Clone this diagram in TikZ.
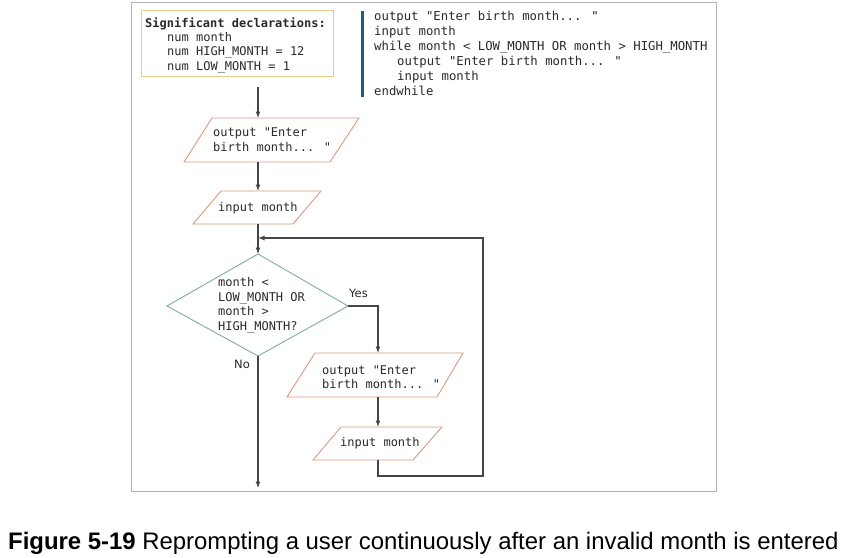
\documentclass[tikz,border=0pt]{standalone}
\usepackage{fontspec}
\setmainfont{Liberation Sans}
\newfontfamily\codefont{DejaVu Sans Mono}
\newfontfamily\labfont{DejaVu Sans}
\usetikzlibrary{arrows.meta}
\definecolor{framegray}{HTML}{B4B4B4}
\definecolor{linegray}{HTML}{454545}
\definecolor{parcol}{HTML}{D89A84}
\definecolor{diacol}{HTML}{7FAE9F}
\definecolor{declcol}{HTML}{E9CB84}
\definecolor{barcol}{HTML}{215E7C}
\definecolor{txt}{HTML}{2A2A2A}
\begin{document}
\begin{tikzpicture}[x=1pt,y=-1pt,
  code/.style={font=\codefont\fontsize{12}{14.5}\selectfont, inner sep=0pt, anchor=base west, text=txt},
  pcode/.style={code, font=\codefont\fontsize{12.3}{14.5}\selectfont},
  lab/.style={font=\labfont\fontsize{11.5}{14}\selectfont, inner sep=0pt, anchor=base west, text=txt},
  io/.style={draw=parcol, line width=0.9pt, fill=white},
  dec/.style={draw=diacol, line width=0.9pt, fill=white},
  flow/.style={draw=linegray, line width=1.1pt},
  arr/.style={flow, -{Latex[length=6.5pt,width=5pt]}},
]
\useasboundingbox (0,0) rectangle (846,557);
\fill[white] (0,0) rectangle (846,557);
\draw[framegray, line width=1pt] (131,2) rectangle (716,491);

% declarations box
\draw[declcol, line width=1pt] (141,10) rectangle (333,76);
\node[code, font=\codefont\bfseries\fontsize{12}{14}\selectfont] (d1) at (145,27) {Significant declarations:};
\node[code] (d2) at (167,41) {num month};
\node[code] (d3) at (167,55.5) {num HIGH\_MONTH = 12};
\node[code] (d4) at (167,70) {num LOW\_MONTH = 1};

% pseudocode
\fill[barcol] (361,11) rectangle (364,97);
\node[pcode] (c1) at (374,20) {output "Enter birth month... "};
\node[pcode] (c2) at (374,35) {input month};
\node[pcode] (c3) at (374,50) {while month < LOW\_MONTH OR month > HIGH\_MONTH};
\node[pcode] (c4) at (397,65) {output "Enter birth month... "};
\node[pcode] (c5) at (397,80) {input month};
\node[pcode] (c6) at (374,95) {endwhile};

% coordinates
\coordinate (d0) at (258,87);
\coordinate (p1t) at (258,118);
\coordinate (p1b) at (258,162);
\coordinate (p2t) at (258,191);
\coordinate (p2b) at (258,224);
\coordinate (join) at (258,238);
\coordinate (dt) at (258,254);
\coordinate (dr) at (348,306);
\coordinate (db) at (258,356);
\coordinate (yc) at (378,306);
\coordinate (p3t) at (378,353);
\coordinate (p3b) at (378,397);
\coordinate (p4t) at (378,427);
\coordinate (p4b) at (378,460);
\coordinate (lb) at (378,476);
\coordinate (rb) at (483,476);
\coordinate (rt) at (483,238);
\coordinate (endp) at (258,488);

% shapes
\draw[io] (184,162) -- (330,162) -- (359,118) -- (212,118) -- cycle;
\node[code] (t1a) at (213,136.5) {output "Enter};
\node[code] (t1b) at (213,151.5) {birth month... "};

\draw[io] (193,224) -- (293,224) -- (321,191) -- (221,191) -- cycle;
\node[code] (t2) at (218,211) {input month};

\draw[dec] (258,254) -- (348,306) -- (258,356) -- (167,306) -- cycle;
\node[code] (t3a) at (218,286) {month <};
\node[code] (t3b) at (218,301) {LOW\_MONTH OR};
\node[code] (t3c) at (218,315.5) {month >};
\node[code] (t3d) at (218,330.5) {HIGH\_MONTH?};

\draw[io] (287,397) -- (437,397) -- (463,353) -- (315,353) -- cycle;
\node[code] (t4a) at (322,374) {output "Enter};
\node[code] (t4b) at (322,388.5) {birth month... "};

\draw[io] (313,460) -- (413,460) -- (442,427) -- (341,427) -- cycle;
\node[code] (t5) at (340,446) {input month};

\node[lab] (yes) at (349,297) {Yes};
\node[lab] (no) at (234,368) {No};

% connectors
\draw[arr] (d0) -- (p1t);
\draw[arr] (p1b) -- (p2t);
\draw[arr] (p2b) -- (dt);
\draw[arr] (dr) -- (yc) -- (p3t);
\draw[arr] (p3b) -- (p4t);
\draw[arr] (db) -- (endp);
\draw[arr] (p4b) -- (lb) -- (rb) -- (rt) -- (join);

% caption
\node[font=\fontsize{23.9}{27}\selectfont, inner sep=0pt, anchor=base west] (cap) at (8,549) {\textbf{Figure 5-19} Reprompting a user continuously after an invalid month is entered};
\end{tikzpicture}
\end{document}
